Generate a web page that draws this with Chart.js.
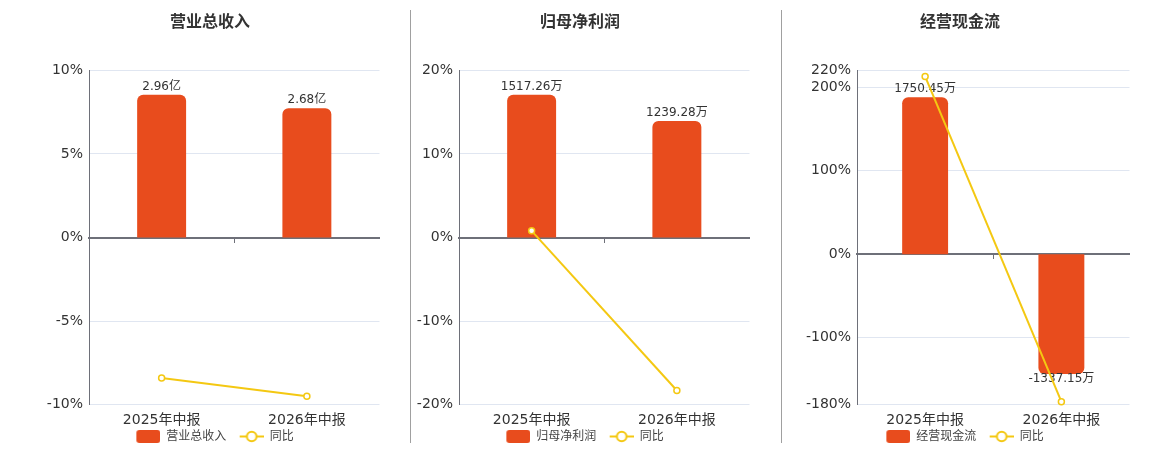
<!DOCTYPE html>
<html>
<head>
<meta charset="utf-8">
<script src="https://cdn.jsdelivr.net/npm/chart.js@4/dist/chart.umd.min.js"></script>
<style>
  html, body { margin: 0; padding: 0; background: #fff; overflow: hidden; }
  .wrap { position: absolute; top: 0; width: 350px; height: 450px; }
  .sep { position: absolute; top: 10px; width: 1px; height: 433px; background: #a0a0a0; }
</style>
</head>
<body>
<div class="wrap" style="left:35px"><canvas id="c1"></canvas></div>
<div class="sep" style="left:410px"></div>
<div class="wrap" style="left:405px"><canvas id="c2"></canvas></div>
<div class="sep" style="left:781px"></div>
<div class="wrap" style="left:785px"><canvas id="c3"></canvas></div>
<script>
// data
var periods = ['2025年中报', '2026年中报'];
var titles = ['营业总收入', '归母净利润', '经营现金流'];
var units = ['亿', '万', '万'];

var revenue = [2.96, 2.68];
var revenueYoy = [-8.4, -9.5];
var revenueTicks = [-10, -5, 0, 5, 10];

var profit = [1517.26, 1239.28];
var profitYoy = [0.8, -18.3];
var profitTicks = [-20, -10, 0, 10, 20];

var cashflow = [1750.45, -1337.15];
var cashflowYoy = [212.7, -176.4];
var cashflowTicks = [-180, -100, 0, 100, 200, 220];

var barColor = '#E84C1D';
var lineColor = '#F4C812';
var axisColor = '#6E7079';
var gridColor = '#E0E6F1';

Chart.defaults.font.family = "'DejaVu Sans', 'Noto Sans CJK SC', sans-serif";
Chart.defaults.color = '#333';

// legend glyphs: 10px empty on the left keeps the gap between legend items
function boxIcon(color) {
  var c = document.createElement('canvas');
  c.width = 34; c.height = 13;
  var g = c.getContext('2d');
  g.fillStyle = color;
  g.beginPath();
  g.roundRect(10, 0, 24, 13, 3);
  g.fill();
  return c;
}

function lineIcon(color) {
  var c = document.createElement('canvas');
  c.width = 34; c.height = 13;
  var g = c.getContext('2d');
  g.strokeStyle = color;
  g.lineWidth = 2;
  g.beginPath(); g.moveTo(10, 6.5); g.lineTo(34, 6.5); g.stroke();
  g.beginPath(); g.arc(22, 6.5, 4.8, 0, Math.PI * 2);
  g.fillStyle = '#fff'; g.fill(); g.stroke();
  return c;
}

var icons = [boxIcon(barColor), lineIcon(lineColor)];

// value labels over the bars, drawn before the line so the line sits on top
var barLabels = {
  id: 'barLabels',
  afterDatasetDraw: function(chart, args, opts) {
    if (args.index !== 0) return;
    var ctx = chart.ctx;
    var data = chart.data.datasets[0].data;
    ctx.save();
    ctx.font = "12px 'DejaVu Sans', 'Noto Sans CJK SC', sans-serif";
    ctx.fillStyle = '#333';
    ctx.textAlign = 'center';
    ctx.textBaseline = 'alphabetic';
    args.meta.data.forEach(function(bar, i) {
      var v = data[i];
      if (v >= 0) ctx.fillText(v + opts.unit, bar.x, bar.y - 5);
      else ctx.fillText(v + opts.unit, bar.x, bar.y + 8);
    });
    ctx.restore();
  }
};

function makePanel(id, title, bars, yoy, unit, ticks, axisWidth) {
  var top = ticks[ticks.length - 1];
  var bottom = ticks[0];
  var barMax = Math.max.apply(null, bars.map(Math.abs)) * 1.172;
  var barMin = barMax * bottom / top;

  return new Chart(document.getElementById(id), {
    data: {
      labels: periods,
      datasets: [
        {
          type: 'bar',
          label: title,
          data: bars,
          yAxisID: 'yb',
          xAxisID: 'x',
          backgroundColor: barColor,
          borderRadius: 6,
          borderSkipped: 'start',
          barPercentage: 1,
          categoryPercentage: 0.337,
          order: 1
        },
        {
          type: 'line',
          label: '同比',
          data: yoy,
          yAxisID: 'y',
          xAxisID: 'x',
          borderColor: lineColor,
          borderWidth: 2,
          pointRadius: 3,
          pointBackgroundColor: '#fff',
          pointBorderColor: lineColor,
          pointBorderWidth: 1.5,
          tension: 0,
          clip: false,
          order: 0
        }
      ]
    },
    options: {
      responsive: true,
      maintainAspectRatio: false,
      animation: false,
      layout: { padding: 0 },
      scales: {
        x: {
          type: 'category',
          position: 'bottom',
          grid: { display: false, drawTicks: false },
          border: { display: false },
          ticks: { font: { size: 14 }, color: '#333', padding: 7 },
          afterFit: function(s) { s.height = 22.5; }
        },
        x0: {
          type: 'category',
          position: { y: 0 },
          grid: { display: true, drawOnChartArea: false, drawTicks: true, tickLength: 4, color: axisColor, offset: true },
          border: { display: true, color: axisColor, width: 2 },
          ticks: { display: false },
          afterFit: function(s) { s.height = 0; }
        },
        y: {
          position: 'left',
          min: bottom,
          max: top,
          grid: { color: gridColor, drawTicks: false },
          border: { display: true, color: axisColor, width: 1 },
          ticks: {
            autoSkip: false,
            font: { size: 14 },
            color: '#333',
            padding: 6,
            callback: function(v) { return v + '%'; }
          },
          afterBuildTicks: function(s) { s.ticks = ticks.map(function(v) { return { value: v }; }); },
          afterFit: function(s) { s.width = axisWidth; }
        },
        yb: {
          display: false,
          min: barMin,
          max: barMax
        }
      },
      plugins: {
        title: {
          display: true,
          text: title,
          color: '#333',
          font: { size: 16, weight: 'bold' },
          padding: { top: 12.9, bottom: 38.2 }
        },
        legend: {
          position: 'bottom',
          maxHeight: 22.8,
          labels: {
            usePointStyle: true,
            pointStyleWidth: 34,
            padding: 3.3,
            color: '#444',
            font: { size: 12 },
            sort: function(a, b) { return a.datasetIndex - b.datasetIndex; },
            generateLabels: function(chart) {
              var items = Chart.defaults.plugins.legend.labels.generateLabels(chart);
              items.forEach(function(it) { it.pointStyle = icons[it.datasetIndex]; });
              return items;
            }
          }
        },
        tooltip: { enabled: false },
        barLabels: { unit: unit }
      }
    },
    plugins: [barLabels]
  });
}

makePanel('c1', titles[0], revenue, revenueYoy, units[0], revenueTicks, 54);
makePanel('c2', titles[1], profit, profitYoy, units[1], profitTicks, 54);
makePanel('c3', titles[2], cashflow, cashflowYoy, units[2], cashflowTicks, 72);
</script>
</body>
</html>
